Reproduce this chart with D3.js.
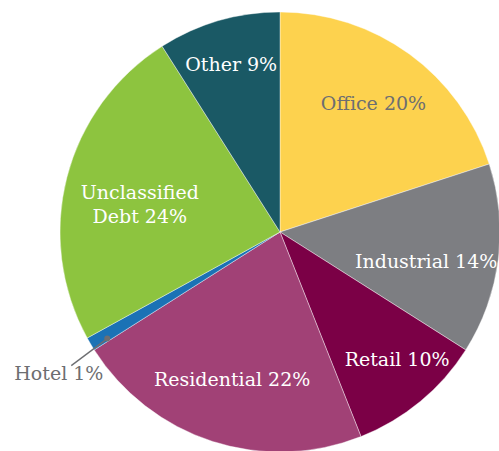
<!DOCTYPE html>
<html>
<head>
<meta charset="utf-8">
<script src="https://cdn.jsdelivr.net/npm/d3@7"></script>
<style>
  html, body { margin: 0; padding: 0; background: #fff; overflow: hidden; }
</style>
</head>
<body>
<div id="chart"></div>
<script>
var categories = ['Office', 'Industrial', 'Retail', 'Residential', 'Hotel', 'Unclassified Debt', 'Other'];
var values = [20, 14, 10, 22, 1, 24, 9];
var colors = ['#fdd24e', '#7d7e82', '#7b0046', '#a14176', '#1b72b5', '#8dc43f', '#1a5965'];
var labelLines = [['Office 20%'], ['Industrial 14%'], ['Retail 10%'], ['Residential 22%'], ['Hotel 1%'], ['Unclassified', 'Debt 24%'], ['Other 9%']];

// layout
var chartWidth = 499;
var chartHeight = 451;
var cx = 280, cy = 232, radius = 220;
var labelRadius = [159, 149, 173, 155, 0, 143, 175];
var labelShift = [0, 4, -3, 0, 0, -3, 0]; // degrees
var fontSize = 19;

var svg = d3.select('#chart')
    .append('svg')
    .attr('width', chartWidth)
    .attr('height', chartHeight);

var g = svg.append('g')
    .attr('transform', 'translate(' + cx + ',' + cy + ')');

var pie = d3.pie()
    .sort(null)
    .value(function(d) { return d; });

var arcs = pie(values);

var arc = d3.arc()
    .innerRadius(0)
    .outerRadius(radius);

g.selectAll('path')
    .data(arcs)
    .enter()
    .append('path')
    .attr('d', arc)
    .attr('fill', function(d, i) { return colors[i]; })
    .attr('stroke', '#fff')
    .attr('stroke-width', 0.4);

// Labels inside slices
var labels = g.selectAll('text.lbl')
    .data(arcs.filter(function(d, i) { return i !== 4; }))
    .enter()
    .append('text')
    .attr('class', 'lbl')
    .attr('font-family', 'DejaVu Serif, serif')
    .attr('font-size', fontSize)
    .attr('text-anchor', 'middle')
    .attr('fill', function(d) { return d.index === 0 ? '#6d6e71' : '#fff'; })
    .attr('transform', function(d) {
      var i = d.index;
      var a = (d.startAngle + d.endAngle) / 2 + labelShift[i] * Math.PI / 180;
      var r = labelRadius[i];
      return 'translate(' + (r * Math.sin(a)) + ',' + (-r * Math.cos(a)) + ')';
    });

labels.each(function(d) {
  var lines = labelLines[d.index];
  var t = d3.select(this);
  lines.forEach(function(s, k) {
    t.append('tspan')
      .attr('x', 0)
      .attr('y', (k - (lines.length - 1) / 2) * 24 + 7)
      .text(s);
  });
});

// Hotel label with leader line
var hotel = arcs[4];
var ha = hotel.startAngle + 0.2 * (hotel.endAngle - hotel.startAngle);
var hr = radius - 17;
var hx = hr * Math.sin(ha), hy = -hr * Math.cos(ha);
g.append('line')
    .attr('x1', hx).attr('y1', hy)
    .attr('x2', hx - 36).attr('y2', hy + 27)
    .attr('stroke', '#6d6e71')
    .attr('stroke-width', 1.3);
g.append('circle')
    .attr('cx', hx).attr('cy', hy)
    .attr('r', 3)
    .attr('fill', '#6d6e71');
g.append('text')
    .attr('x', hx - 93)
    .attr('y', hy + 41)
    .attr('font-family', 'DejaVu Serif, serif')
    .attr('font-size', fontSize)
    .attr('fill', '#6d6e71')
    .text(labelLines[4][0]);
</script>
</body>
</html>
